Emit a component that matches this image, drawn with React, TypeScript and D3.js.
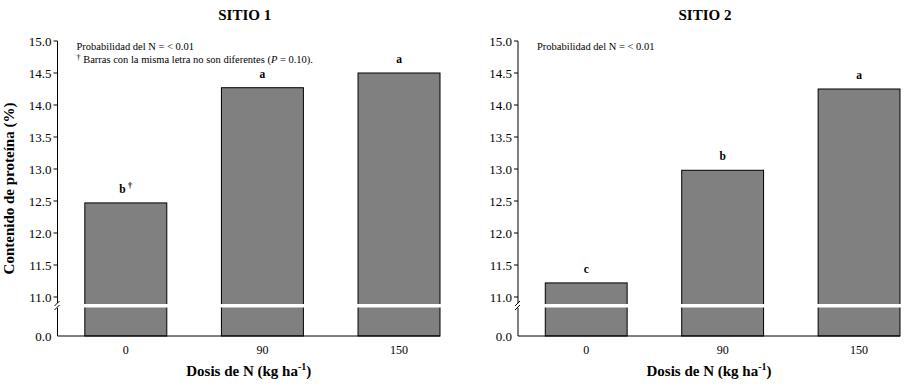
import React from 'react';
import * as d3 from 'd3';

const doses = ['0', '90', '150'];
const sitio1 = [12.47, 14.27, 14.5];
const sitio2 = [11.22, 12.98, 14.25];
const letters1 = ['b', 'a', 'a'];
const letters2 = ['c', 'b', 'a'];
const yTicks = [11.0, 11.5, 12.0, 12.5, 13.0, 13.5, 14.0, 14.5, 15.0];

const FONT = '"Liberation Serif", "Times New Roman", serif';

const top = 41;
const bottom = 336;
const breakY = 306;

type PanelProps = {
  x0: number;
  x1: number;
  title: string;
  values: number[];
  letters: string[];
  notes: boolean;
  yLabel: boolean;
};

const Panel = ({ x0, x1, title, values, letters, notes, yLabel }: PanelProps) => {
  const x = d3.scaleBand()
    .domain(doses)
    .range([x0, x1])
    .paddingInner(0.4)
    .paddingOuter(0.1)
    .align(1);

  // upper segment of the broken axis
  const y = d3.scaleLinear().domain([11, 15]).range([297, top]);
  // lower segment, only the zero is shown
  const yLow = d3.scaleLinear().domain([0, 10.5]).range([bottom, breakY + 2]);

  const mid = (x0 + x1) / 2 - 4;

  return (
    <g fontFamily={FONT} fill="#000">
      <text x={mid} y={20} textAnchor="middle" fontSize={15} fontWeight="bold">{title}</text>

      {values.map((v, i) => {
        const bx = x(doses[i])!;
        return (
          <g key={doses[i]}>
            <rect x={bx} y={y(v)} width={x.bandwidth()} height={yLow(0) - y(v)}
              fill="#808080" stroke="#000" strokeWidth={1} />
            <text x={bx + x.bandwidth() / 2} y={y(v) - 10} textAnchor="middle"
              fontSize={11.5} fontWeight="bold">
              {letters[i]}
              {notes && i === 0 ? <tspan dx={2} dy={-5} fontSize={9} fill="#000">†</tspan> : null}
            </text>
            <text x={bx + x.bandwidth() / 2} y={bottom + 18} textAnchor="middle" fontSize={12}>
              {doses[i]}
            </text>
          </g>
        );
      })}

      {/* break band across the bars */}
      <rect x={x0 + 1} y={breakY - 2} width={x1 - x0} height={3.5} fill="#fff" />

      {/* y axis */}
      <line x1={x0} x2={x0} y1={top} y2={breakY - 3} stroke="#000" />
      <line x1={x0} x2={x0} y1={breakY + 2} y2={bottom} stroke="#000" />
      <line x1={x0 - 3} x2={x0 + 2} y1={breakY + 0} y2={breakY - 5} stroke="#000" />
      <line x1={x0 - 3} x2={x0 + 2} y1={breakY + 4} y2={breakY - 1} stroke="#000" />
      {yTicks.map(t => (
        <g key={t}>
          <line x1={x0 - 4} x2={x0} y1={y(t)} y2={y(t)} stroke="#000" />
          <text x={x0 - 6} y={y(t)} dy="0.35em" textAnchor="end" fontSize={13}>{t.toFixed(1)}</text>
        </g>
      ))}
      <text x={x0 - 6} y={yLow(0)} dy="0.35em" textAnchor="end" fontSize={13}>0.0</text>

      {/* x axis */}
      <line x1={x0} x2={x1} y1={bottom} y2={bottom} stroke="#000" />
      <text x={mid + 4} y={376} textAnchor="middle" fontSize={15} fontWeight="bold">
        Dosis de N (kg ha<tspan dy={-6} fontSize={10}>-1</tspan><tspan dy={6}>)</tspan>
      </text>

      {yLabel ? (
        <text transform={`translate(14,${(top + bottom) / 2}) rotate(-90)`} textAnchor="middle"
          fontSize={15} fontWeight="bold">Contenido de proteína (%)</text>
      ) : null}

      <text x={x0 + 19} y={50} fontSize={10.5}>Probabilidad del N = &lt; 0.01</text>
      {notes ? (
        <text x={x0 + 19} y={63} fontSize={10.5}>
          <tspan fontSize={8} dy={-3} fill="#000">†</tspan>
          <tspan dy={3}> Barras con la misma letra no son diferentes (</tspan>
          <tspan fontStyle="italic">P</tspan>
          <tspan> = 0.10).</tspan>
        </text>
      ) : null}
    </g>
  );
};

export default function App() {
  return (
    <svg width={922} height={384} style={{ position: 'absolute', left: 0, top: 0, background: '#fff' }}>
      <Panel x0={57.5} x1={440} title="SITIO 1" values={sitio1} letters={letters1} notes yLabel />
      <Panel x0={518} x1={900} title="SITIO 2" values={sitio2} letters={letters2} notes={false} yLabel={false} />
    </svg>
  );
}
